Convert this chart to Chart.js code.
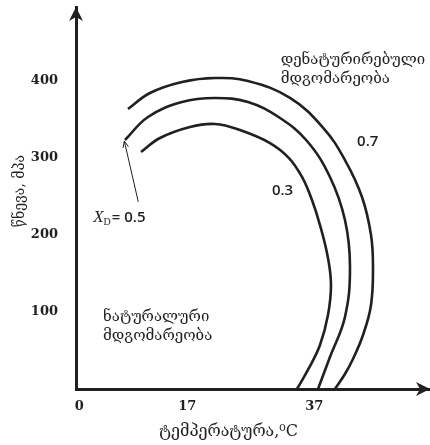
<!DOCTYPE html>
<html><head><meta charset="utf-8">
<script src="https://cdn.jsdelivr.net/npm/chart.js@4"></script>
<style>html,body{margin:0;padding:0;background:#fff}#wrap{width:430px;height:445px;position:relative}</style>
</head><body><div id="wrap"><canvas id="c"></canvas></div>
<script>
// ---- data ----
const xTicks = [0, 17, 37];
const yTicks = [100, 200, 300, 400];
const seriesNames = ['0.3', '0.5', '0.7'];
const curve03X = [9.73, 12.71, 17.44, 21.37, 25.3, 30.02, 33.01, 35.06, 36.63, 37.89, 39.15, 39.62, 39.15, 37.89, 36.16, 34.27];
const curve03Y = [307.7, 325.9, 340.2, 344.1, 336.3, 319.4, 299.9, 275.3, 245.4, 212.9, 170.1, 135.0, 96.1, 57.1, 27.3, 0];
const curve05X = [7.21, 10.83, 16.18, 21.37, 26.56, 31.6, 35.85, 39.46, 41.82, 42.61, 41.82, 39.46, 37.58];
const curve05Y = [323.3, 353.2, 372.6, 377.8, 372.6, 351.9, 322.0, 275.3, 219.4, 158.4, 93.5, 41.5, 0];
const curve07X = [7.68, 11.14, 16.18, 21.37, 26.56, 33.17, 38.36, 41.82, 44.5, 45.92, 46.23, 45.92, 44.66, 43.08, 41.82, 40.25];
const curve07Y = [363.5, 384.3, 398.6, 403.8, 399.9, 378.0, 339.5, 297.3, 249.3, 199.9, 158.4, 109.1, 70.1, 39.0, 19.5, 0];

const ink = '#231f20';
const geo = '"DejaVu Serif","DejaVu Sans",serif';
const pts = (xs, ys) => xs.map((v, i) => ({x: v, y: ys[i]}));

const extras = {
  id: 'extras',
  afterDraw(chart) {
    const {ctx, scales: {x, y}, chartArea: a} = chart;
    const X = v => x.getPixelForValue(v), Y = v => y.getPixelForValue(v);
    ctx.save();
    ctx.fillStyle = ink; ctx.strokeStyle = ink;
    // arrowheads on the axes
    const l = a.left, b = a.bottom;
    ctx.beginPath();
    ctx.moveTo(l, a.top); ctx.lineTo(l - 7, a.top + 14); ctx.lineTo(l, a.top + 10); ctx.lineTo(l + 7, a.top + 14); ctx.closePath(); ctx.fill();
    ctx.beginPath();
    ctx.moveTo(a.right, b); ctx.lineTo(a.right - 14, b - 7); ctx.lineTo(a.right - 10, b); ctx.lineTo(a.right - 14, b + 7); ctx.closePath(); ctx.fill();

    // region texts
    ctx.textBaseline = 'middle'; ctx.textAlign = 'left';
    ctx.font = '15px ' + geo;
    ctx.fillText('დენატურირებული', X(31.7), Y(427));
    ctx.fillText('მდგომარეობა', X(31.7), Y(403));
    ctx.fillText('ნატურალური', X(3.75), Y(93.5));
    ctx.fillText('მდგომარეობა', X(3.75), Y(69));

    // curve labels
    ctx.textAlign = 'center';
    ctx.font = '600 15px "Open Sans",sans-serif';
    ctx.fillText(seriesNames[2], X(45.4), Y(321));
    ctx.fillText(seriesNames[0], X(32.0), Y(258));

    // X_D = 0.5 label
    ctx.textAlign = 'left';
    let px = X(2.2), py = Y(223);
    ctx.font = 'italic 17px "Liberation Serif",serif';
    ctx.fillText('X', px, py);
    px += ctx.measureText('X').width;
    ctx.font = '10px "Liberation Serif",serif';
    ctx.fillText('D', px, py + 5);
    px += ctx.measureText('D').width + 1;
    ctx.font = '600 15px "Open Sans",sans-serif';
    ctx.fillText('= ' + seriesNames[1], px, py);

    // pointer arrow to the 0.5 curve
    const x0 = X(9.3), y0 = Y(243), x1 = X(7.1), y1 = Y(322);
    ctx.lineWidth = 1;
    ctx.beginPath(); ctx.moveTo(x0, y0); ctx.lineTo(x1, y1); ctx.stroke();
    const ang = Math.atan2(y1 - y0, x1 - x0);
    ctx.beginPath();
    ctx.moveTo(x1 - 7 * Math.cos(ang - 0.4), y1 - 7 * Math.sin(ang - 0.4));
    ctx.lineTo(x1, y1);
    ctx.lineTo(x1 - 7 * Math.cos(ang + 0.4), y1 - 7 * Math.sin(ang + 0.4));
    ctx.stroke();

    // axis titles
    ctx.textAlign = 'center';
    ctx.font = '16px ' + geo;
    ctx.fillText('ტემპერატურა,⁰C', X(23.5), 432);
    ctx.font = '14px ' + geo;
    ctx.save();
    ctx.translate(20, Y(257));
    ctx.rotate(-Math.PI / 2);
    ctx.fillText('წნევა, მპა', 0, 0);
    ctx.restore();
    ctx.restore();
  }
};

const lineDs = (label, data) => ({
  label, data, showLine: true, pointRadius: 0, borderColor: ink, borderWidth: 2.6,
  tension: 0.4, fill: false, clip: false
});

new Chart(document.getElementById('c'), {
  type: 'scatter',
  data: {datasets: [
    lineDs(seriesNames[0], pts(curve03X, curve03Y)),
    lineDs(seriesNames[1], pts(curve05X, curve05Y)),
    lineDs(seriesNames[2], pts(curve07X, curve07Y))
  ]},
  options: {
    responsive: true, maintainAspectRatio: false, animation: false,
    layout: {padding: {top: 7, right: 0, left: 0, bottom: 0}},
    plugins: {legend: {display: false}, tooltip: {enabled: false}},
    scales: {
      x: {
        type: 'linear', min: -0.5, max: 55.2,
        grid: {display: false, drawTicks: false},
        border: {display: true, color: ink, width: 3},
        afterBuildTicks: s => { s.ticks = xTicks.map(v => ({value: v})); },
        afterFit: s => { s.height = 56; s.paddingLeft = 0; s.paddingRight = 0; },
        ticks: {autoSkip: false, padding: 10, color: ink, font: {family: '"DejaVu Serif",serif', size: 13, weight: 'bold'}}
      },
      y: {
        type: 'linear', min: 0, max: 496,
        grid: {display: false, drawTicks: false},
        border: {display: true, color: ink, width: 3},
        afterBuildTicks: s => { s.ticks = yTicks.map(v => ({value: v})); },
        afterFit: s => { s.width = 76; s.paddingTop = 0; s.paddingBottom = 0; },
        ticks: {autoSkip: false, padding: 18, color: ink, font: {family: '"DejaVu Serif",serif', size: 13, weight: 'bold'}}
      }
    }
  },
  plugins: [extras]
});
</script>
</body></html>
